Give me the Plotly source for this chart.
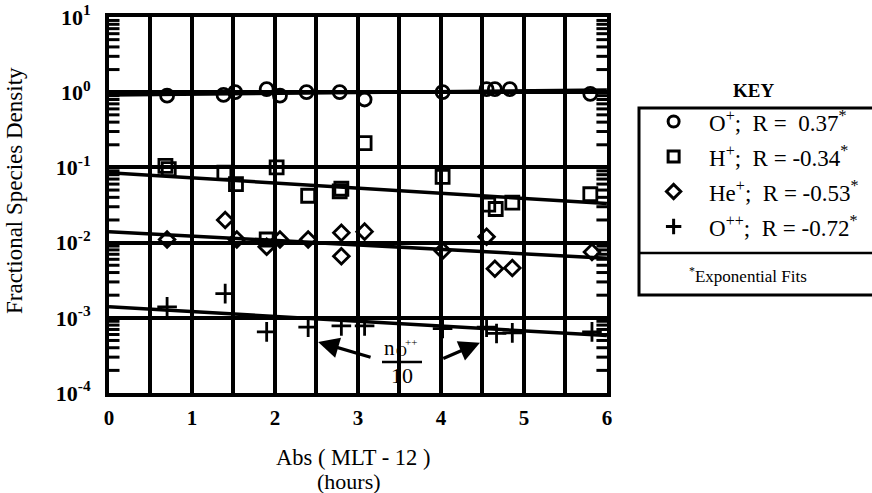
import plotly.graph_objects as go

# ---------------- data ----------------
op_x = [0.70, 1.38, 1.52, 1.90, 2.06, 2.38, 2.78, 3.08, 4.02, 4.55, 4.65, 4.83, 5.80]
op_y = [0.90, 0.92, 1.00, 1.10, 0.90, 1.00, 1.00, 0.80, 1.00, 1.10, 1.10, 1.10, 0.95]

hp_x = [0.68, 0.72, 1.39, 1.53, 1.90, 2.02, 2.40, 2.78, 2.80, 3.08, 4.02, 4.57, 4.66, 4.86, 5.80]
hp_y = [0.105, 0.095, 0.085, 0.060, 0.011, 0.100, 0.042, 0.048, 0.052, 0.21, 0.075, 0.032, 0.028, 0.034, 0.044]

hep_x = [0.70, 1.40, 1.54, 1.90, 2.06, 2.40, 2.80, 2.80, 3.08, 4.02, 4.55, 4.65, 4.86, 5.82]
hep_y = [0.011, 0.020, 0.011, 0.0088, 0.011, 0.011, 0.0135, 0.0066, 0.014, 0.0078, 0.012, 0.0045, 0.0046, 0.0075]

opp_x = [0.70, 1.40, 1.90, 2.40, 2.80, 3.08, 4.02, 4.55, 4.67, 4.86, 5.82]
opp_y = [0.0014, 0.0021, 0.00065, 0.00075, 0.00078, 0.00078, 0.00072, 0.00075, 0.00062, 0.00063, 0.00065]

# exponential fits (end points at x = 0 and x = 6)
fit_x = [0, 6]
op_fit = [0.92, 1.07]
hp_fit = [0.085, 0.033]
hep_fit = [0.0140, 0.0062]
opp_fit = [0.00140, 0.00058]

x_range = [0, 6]
x_ticks = [0, 0.5, 1, 1.5, 2, 2.5, 3, 3.5, 4, 4.5, 5, 5.5, 6]
x_ticktext = ["0", "", "1", "", "2", "", "3", "", "4", "", "5", "", "6"]
y_ticks = [1e-4, 1e-3, 1e-2, 1e-1, 1e0, 1e1]
y_ticktext = ["10<sup>-4</sup>", "10<sup>-3</sup>", "10<sup>-2</sup>",
              "10<sup>-1</sup>", "10<sup>0</sup>", "10<sup>1</sup>"]
y_minor_ticks = [m * 10.0 ** e for e in range(-4, 1) for m in range(2, 10)]

key_labels = ["O<sup>+</sup>;  R =  0.37<sup>*</sup>",
              "H<sup>+</sup>;  R = -0.34<sup>*</sup>",
              "He<sup>+</sup>;  R = -0.53<sup>*</sup>",
              "O<sup>++</sup>;  R = -0.72<sup>*</sup>"]
key_symbols = ["circle-open", "square-open", "diamond-open", "cross-thin-open"]

SERIF = "Liberation Serif"
fig = go.Figure()

# minor log ticks on both vertical frame edges (half of each marker is clipped by the axes)
for edge in x_range:
    fig.add_trace(go.Scatter(x=[edge] * len(y_minor_ticks), y=y_minor_ticks, mode="markers",
                             cliponaxis=True, showlegend=False, hoverinfo="skip",
                             marker=dict(symbol="line-ew", size=15, color="black",
                                         line=dict(width=3, color="black"))))

# fit lines
for f in [op_fit, hp_fit, hep_fit, opp_fit]:
    fig.add_trace(go.Scatter(x=fit_x, y=f, mode="lines",
                             line=dict(color="black", width=3.5), showlegend=False))

def mk(sym, size):
    return dict(symbol=sym, size=size, color="black", line=dict(width=2.8, color="black"))

fig.add_trace(go.Scatter(x=op_x, y=op_y, mode="markers", showlegend=False, marker=mk("circle-open", 13)))
fig.add_trace(go.Scatter(x=hp_x, y=hp_y, mode="markers", showlegend=False, marker=mk("square-open", 13)))
fig.add_trace(go.Scatter(x=hep_x, y=hep_y, mode="markers", showlegend=False, marker=mk("diamond-open", 12)))
fig.add_trace(go.Scatter(x=opp_x, y=opp_y, mode="markers", showlegend=False, marker=mk("cross-thin-open", 14)))

# key markers on auxiliary axes
fig.add_trace(go.Scatter(x=[0] * 4, y=list(range(4)), mode="markers", showlegend=False,
                         xaxis="x2", yaxis="y2",
                         marker=dict(symbol=key_symbols, size=11, color="black",
                                     line=dict(width=3, color="black"))))

fig.update_layout(
    width=872, height=493,
    margin=dict(l=0, r=0, t=0, b=0),
    plot_bgcolor="white", paper_bgcolor="white",
    font=dict(family=SERIF, color="black"),
    xaxis=dict(domain=[0.125, 0.696], range=x_range, tickvals=x_ticks, ticktext=x_ticktext,
               showgrid=True, gridcolor="black", gridwidth=3.5, zeroline=False,
               showline=True, linecolor="black", linewidth=4, mirror=True,
               ticks="", ticklabelstandoff=3,
               tickfont=dict(family=SERIF, size=21, color="black", weight="bold"),
               automargin=False),
    yaxis=dict(domain=[0.2028, 0.9655], type="log", range=[-4, 1],
               tickvals=y_ticks, ticktext=y_ticktext,
               showgrid=True, gridcolor="black", gridwidth=3.5, zeroline=False,
               showline=True, linecolor="black", linewidth=4, mirror=True,
               ticks="", ticklabelstandoff=10,
               tickfont=dict(family=SERIF, size=22, color="black", weight="bold"),
               automargin=False),
    xaxis2=dict(domain=[0.76, 0.785], range=[-1, 1], visible=False, fixedrange=True),
    yaxis2=dict(domain=[0.505, 0.789], range=[3.5, -0.5], visible=False, fixedrange=True),
)

def txt(x, y, text, size, xref="paper", yref="paper", xanchor="center", **kw):
    d = dict(xref=xref, yref=yref, x=x, y=y, text=text, showarrow=False,
             font=dict(size=size, family=SERIF, color="black"),
             xanchor=xanchor, yanchor="middle")
    d.update(kw)
    return d

ann = [
    txt(353 / 872, 1 - 457 / 493, "Abs ( MLT - 12 )", 22.5),
    txt(349 / 872, 1 - 481 / 493, "(hours)", 22),
    txt(15 / 872, 1 - 191 / 493, "Fractional Species Density", 23, textangle=-90),
    # fraction label  n_O++ / 10
    txt(389 / 872, 1 - 348 / 493, "n", 21),
    txt(401 / 872, 1 - 351 / 493, "O", 15),
    txt(411 / 872, 1 - 342 / 493, "++", 11),
    txt(402 / 872, 1 - 375 / 493, "10", 22),
    # key
    txt(753 / 872, 1 - 90 / 493, "<b>KEY</b>", 19),
    txt(748 / 872, 1 - 275 / 493, "<sup>*</sup>Exponential Fits", 17),
]
for i, lab in enumerate(key_labels):
    ann.append(txt(707 / 872, i, lab, 23, yref="y2", xanchor="left"))
# arrows
ann.append(dict(xref="x", yref="y", x=2.52, y=-3.32, axref="x", ayref="y", ax=3.17, ay=-3.53,
                text="", showarrow=True, arrowhead=2, arrowsize=1.3, arrowwidth=3.2, arrowcolor="black"))
ann.append(dict(xref="x", yref="y", x=4.47, y=-3.33, axref="x", ayref="y", ax=4.01, ay=-3.55,
                text="", showarrow=True, arrowhead=2, arrowsize=1.3, arrowwidth=3.2, arrowcolor="black"))
fig.update_layout(annotations=ann)

shapes = [
    dict(type="line", xref="paper", yref="paper", x0=382 / 872, x1=422 / 872,
         y0=1 - 362 / 493, y1=1 - 362 / 493, line=dict(color="black", width=2.5)),
    dict(type="rect", xref="paper", yref="paper", x0=639 / 872, x1=1.02, y0=1 - 295 / 493, y1=1 - 108 / 493,
         line=dict(color="black", width=3)),
    dict(type="line", xref="paper", yref="paper", x0=639 / 872, x1=1.02, y0=1 - 253 / 493, y1=1 - 253 / 493,
         line=dict(color="black", width=2.5)),
]
fig.update_layout(shapes=shapes)

fig.write_html("out.html")
